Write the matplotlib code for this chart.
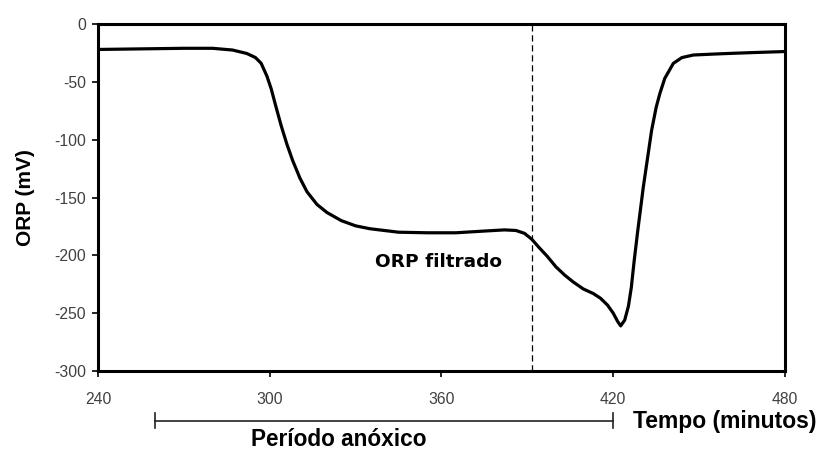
import numpy as np
import matplotlib
matplotlib.use('Agg')
import matplotlib.pyplot as plt

# ORP curve (minutes, mV)
tempo = [240, 255, 270, 280, 287, 292, 295, 297, 299, 300.5, 302, 304, 306, 308,
         310.5, 313, 316.5, 320, 325, 330, 335, 345, 355, 365, 375, 382, 386, 389,
         391.5, 394, 397, 400, 403, 406, 409.5, 413, 415.5, 418, 420, 421.5, 422.6,
         424, 425.3, 426.3, 427.3, 428.5, 430.5, 433.4, 435, 436.3, 438, 441, 444,
         448, 455, 462, 470, 480]
orp = [-22, -21.5, -21, -21, -22.5, -25.5, -29, -34, -45, -56, -70, -88, -104, -118,
       -133, -145, -156, -163, -170, -174.5, -177, -180, -180.5, -180.5, -179, -178,
       -178.5, -181, -186, -193, -201, -210, -217, -223, -229, -233, -237, -243, -250,
       -257, -261, -256, -244, -228, -205, -180, -141, -92, -72, -60, -47, -34, -29,
       -26.8, -26, -25.3, -24.6, -23.8]

x_ticks = [240, 300, 360, 420, 480]
y_ticks = [0, -50, -100, -150, -200, -250, -300]
t_marker = 391.5
periodo = (260, 420)

plt.rcParams['font.family'] = ['Liberation Sans', 'DejaVu Sans']
plt.rcParams['axes.unicode_minus'] = False

fig = plt.figure(figsize=(8.25, 4.53), dpi=100)
ax = fig.add_axes([0.1188, 0.181, 0.8327, 0.766])

ax.plot(tempo, orp, color='black', lw=2.3, solid_capstyle='round',
        solid_joinstyle='round')
ax.axvline(t_marker, color='black', lw=0.9, ls=(0, (5, 3)))

ax.set_xlim(240, 480)
ax.set_ylim(-300, 0)
ax.set_xticks(x_ticks)
ax.set_yticks(y_ticks)
ax.tick_params(direction='out', length=4, width=1.2, labelsize=11.3,
               labelcolor='#404040', pad=4.5)
ax.tick_params(axis='x', pad=11)
for s in ax.spines.values():
    s.set_linewidth(2.2)

ax.set_ylabel('ORP (mV)', fontsize=15, fontweight='bold', labelpad=14)

ax.text(336.8, -210.3, 'ORP filtrado', fontsize=13.3, fontweight='bold',
        family='DejaVu Sans', ha='left', va='baseline')

# anoxic period bar below the x axis
tr = ax.get_xaxis_transform()
ax.plot(periodo, [-0.143, -0.143], transform=tr, color='#222222', lw=1.2, clip_on=False)
for xp in periodo:
    ax.plot([xp, xp], [-0.121, -0.165], transform=tr, color='#222222', lw=1.2,
            clip_on=False)
ax.text(324.2, -0.216, 'Período anóxico', transform=tr, fontsize=16.3,
        fontweight='bold', ha='center', va='baseline')
ax.text(426.9, -0.164, 'Tempo (minutos)', transform=tr, fontsize=16.5,
        fontweight='bold', ha='left', va='baseline')

fig.savefig('out.png', dpi=100)
